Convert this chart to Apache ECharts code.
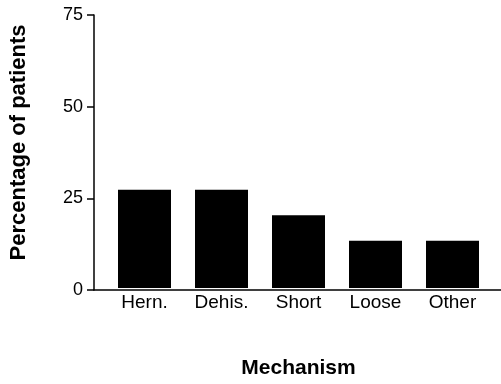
<!DOCTYPE html>
<html>
<head>
<meta charset="utf-8">
<script src="https://cdn.jsdelivr.net/npm/echarts@6/dist/echarts.min.js"></script>
<style>
  html, body { margin: 0; padding: 0; background: #fff; }
  #chart { width: 501px; height: 384px; }
</style>
</head>
<body>
<div id="chart"></div>
<script>
// mecanismos y porcentajes
const mechanisms = ['Hern.', 'Dehis.', 'Short', 'Loose', 'Other'];
const percentages = [27, 27, 20, 13, 13];
const yTicks = { min: 0, max: 75, interval: 25 };

const chart = echarts.init(document.getElementById('chart'));
const font = 'Liberation Sans, Arial, Helvetica, sans-serif';

chart.setOption({
  animation: false,
  // grid 0: barras; grid 1: ejes (la linea x va de borde a borde)
  grid: [
    { left: 106, right: 10, top: 15, bottom: 94 },
    { left: 94, right: 0, top: 15, bottom: 94 }
  ],
  xAxis: [
    {
      type: 'category',
      gridIndex: 0,
      data: mechanisms,
      axisLine: { show: false },
      axisTick: { show: false },
      axisLabel: { color: '#000', fontSize: 19, fontFamily: font, margin: 5 },
      name: 'Mechanism',
      nameLocation: 'middle',
      nameGap: 70,
      nameTextStyle: { color: '#000', fontSize: 21, fontWeight: 'bold', fontFamily: font }
    },
    {
      type: 'value',
      gridIndex: 1,
      min: 0,
      max: 1,
      axisLine: { show: true, lineStyle: { color: '#000', width: 1.5 } },
      axisTick: { show: false },
      axisLabel: { show: false },
      splitLine: { show: false }
    }
  ],
  yAxis: [
    {
      type: 'value',
      gridIndex: 0,
      min: yTicks.min,
      max: yTicks.max,
      interval: yTicks.interval,
      show: false
    },
    {
      type: 'value',
      gridIndex: 1,
      min: yTicks.min,
      max: yTicks.max,
      interval: yTicks.interval,
      axisLine: { show: true, lineStyle: { color: '#000', width: 1.5 } },
      axisTick: { show: true, length: 7, lineStyle: { color: '#000', width: 1.5 } },
      axisLabel: { color: '#000', fontSize: 18, fontFamily: font, margin: 11 },
      splitLine: { show: false },
      name: 'Percentage of patients',
      nameLocation: 'middle',
      nameRotate: 90,
      nameGap: 64,
      nameTextStyle: {
        color: '#000', fontSize: 22, fontWeight: 'bold', fontFamily: font,
        padding: [0, 0, 0, 20]
      }
    }
  ],
  series: [
    {
      type: 'bar',
      xAxisIndex: 0,
      yAxisIndex: 0,
      data: percentages,
      barWidth: 53,
      itemStyle: { color: '#000' }
    }
  ]
});
</script>
</body>
</html>
